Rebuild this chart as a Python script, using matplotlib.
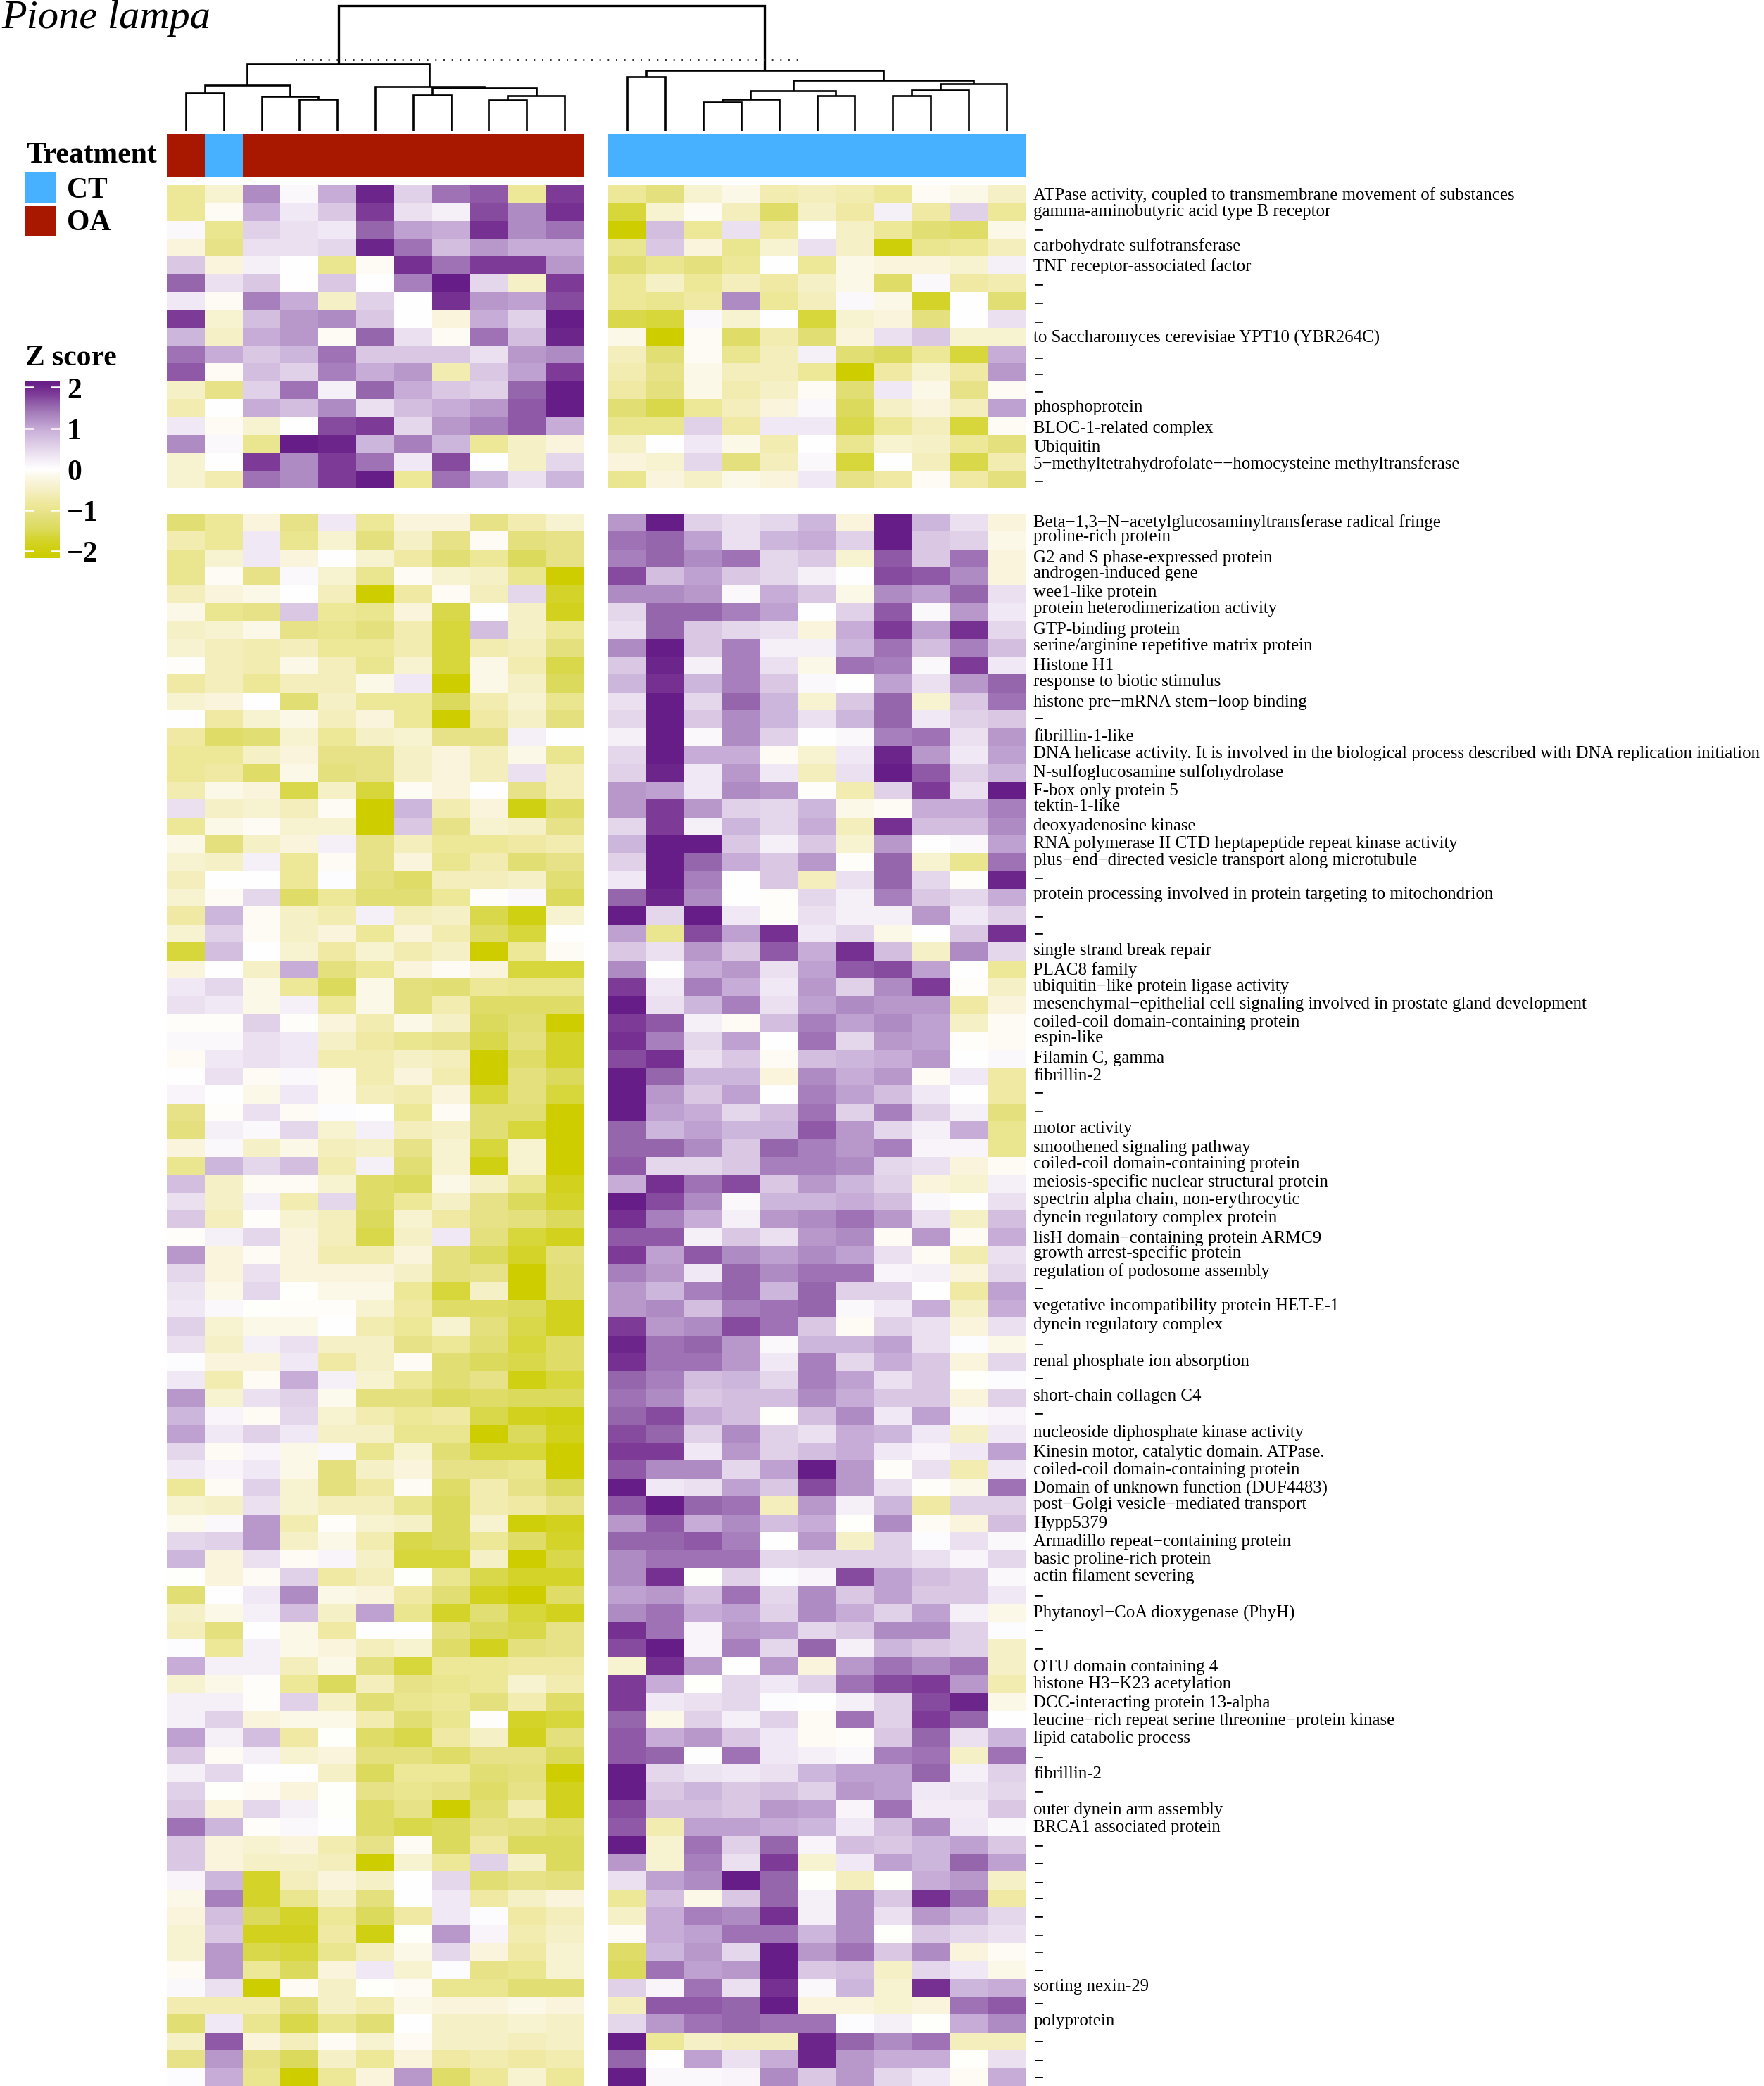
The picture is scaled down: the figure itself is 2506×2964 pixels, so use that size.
import numpy as np
import matplotlib
matplotlib.use("Agg")
import matplotlib.pyplot as plt
from matplotlib.colors import LinearSegmentedColormap, ListedColormap, Normalize
from matplotlib.patches import Rectangle

plt.rcParams['font.family'] = ['Liberation Serif', 'DejaVu Serif']

W, H = 2506, 2964

# ---------- data ----------
top_left = [
[-0.9,-0.4,1.3,0.1,1.0,2.1,0.6,1.5,1.7,-0.9,1.9],
[-0.9,-0.1,1.0,0.3,0.7,1.9,0.4,0.2,1.8,1.3,2.0],
[0.1,-1.0,0.6,0.4,0.3,1.6,1.1,1.0,2.0,1.3,1.5],
[-0.3,-1.1,0.4,0.4,0.5,2.1,1.5,0.8,1.2,1.0,1.0],
[0.7,-0.3,0.2,0.0,-1.0,-0.1,2.0,1.5,1.9,1.9,1.2],
[1.6,0.4,0.7,0,0.7,0,1.4,2.2,0.5,-0.5,1.9],
[0.3,-0.1,1.4,1.0,-0.5,0.6,0,2.0,1.2,1.1,1.8],
[1.9,-0.4,0.8,1.2,1.3,0.7,0,-0.3,1.0,0.6,2.2],
[0.9,-0.5,1.0,1.2,-0.1,1.6,0.4,-0.1,1.5,0.8,2.1],
[1.5,1.0,0.7,0.9,1.5,0.7,0.7,0.7,0.4,1.2,1.3],
[1.7,-0.1,0.8,0.6,1.4,1.0,1.2,-0.7,0.7,1.1,1.9],
[-0.5,-1.1,0.6,1.5,0.2,1.6,1.0,0.7,0.6,1.6,2.2],
[-0.7,0,1.0,0.8,1.3,0.4,0.8,1.0,1.2,1.7,2.2],
[0.3,-0.1,-0.4,0,1.8,1.9,0.5,1.2,1.4,1.7,1.0],
[1.3,0.1,-1.0,2.2,2.1,0.9,1.4,0.9,-0.9,-0.5,-0.3],
[-0.4,0,1.9,1.3,1.9,1.5,0.3,1.8,0,-0.5,0.5],
[-0.4,-0.7,1.5,1.3,1.9,2.2,-0.9,1.5,0.9,0.4,0.9],
]
top_right = [
[-0.9,-1.2,-0.4,-0.2,-0.7,-0.6,-0.7,-0.9,-0.1,-0.2,-0.5],
[-1.7,-0.4,-0.1,-0.6,-1.4,-0.5,-0.8,0.2,-0.8,0.6,-0.9],
[-2.2,0.8,-0.9,0.4,-0.8,0.0,-0.5,-0.9,-1.3,-1.4,-0.2],
[-1.0,0.7,-0.3,-1.0,-0.4,0.4,-0.5,-2.1,-1.0,-0.9,-0.6],
[-1.3,-1.0,-1.2,-0.9,0,-0.9,-0.2,-0.3,-0.3,-0.4,0.2],
[-0.9,-0.5,-0.9,-0.6,-0.8,-0.5,-0.2,-1.4,0.1,-0.8,-0.7],
[-0.9,-1.0,-0.8,1.3,-0.9,-0.6,0.1,-0.2,-1.8,0,-1.3],
[-1.6,-1.7,0.1,-0.4,0,-1.7,-0.4,-0.3,-1.2,0,0.4],
[-0.2,-2.2,-0.1,-1.4,-0.7,-1.3,-0.3,0.4,0.7,-0.4,-0.4],
[-0.6,-1.3,-0.1,-1.0,-0.6,0.2,-1.3,-1.5,-0.9,-1.7,1.0],
[-0.7,-1.1,-0.2,-0.6,-0.6,-0.9,-2.2,-0.8,-0.4,-0.8,1.2],
[-0.8,-1.2,-0.2,-0.7,-0.5,-0.1,-1.3,0.3,-0.2,-1.1,-0.1],
[-1.3,-1.6,-0.9,-0.6,-0.3,0.1,-1.5,-0.5,-0.3,-0.6,1.1],
[-1.0,-1.0,0.6,-0.8,0.3,0.3,-1.6,-0.9,-0.6,-1.7,-0.1],
[-0.5,0,0.3,-0.2,-0.7,0,-1.0,-0.4,-0.5,-0.9,-1.2],
[-0.3,-0.4,0.5,-1.2,-0.6,0.1,-1.7,0,-0.6,-1.6,-0.7],
[-1.0,-0.3,-0.5,-0.2,-0.3,0.3,-1.1,-0.8,-0.1,-0.8,-1.2],
]
bottom_left = [
[-1.3,-0.9,-0.3,-1.1,0.3,-0.9,-0.3,-0.3,-1.1,-0.7,-0.4],
[-0.7,-0.9,0.3,-1.0,-0.4,-1.2,-0.5,-1.1,-0.1,-1.2,-1.1],
[-1.0,-0.4,0.3,-0.3,0,-0.4,-0.8,-1.3,-0.9,-1.5,-1.1],
[-1.0,-0.1,-1.1,0.1,-0.4,-1.0,-0.1,-0.4,-0.5,-1.0,-2.2],
[-0.6,-0.3,-0.2,0,-0.6,-2.2,-0.8,-0.1,-0.6,0.5,-1.8],
[-0.2,-1.0,-1.1,0.7,-0.9,-1.0,-0.3,-1.6,0,-0.5,-1.9],
[-0.5,-0.4,-0.2,-1.1,-1.0,-1.2,-0.7,-1.7,0.8,-0.5,-0.9],
[-0.4,-0.6,-0.7,-0.6,-0.9,-0.9,-0.7,-1.7,-0.7,-0.6,-1.2],
[-0.05,-0.6,-0.7,-0.2,-0.6,-1.0,-0.4,-1.7,-0.2,-0.7,-1.6],
[-0.8,-0.6,-0.9,-0.6,-0.6,-0.2,0.3,-2.2,-0.2,-0.5,-1.5],
[-0.4,-0.3,0,-1.3,-0.5,-0.9,-0.9,-1.5,-0.7,-0.4,-1.0],
[0,-0.8,-0.4,-0.2,-0.6,-0.3,-0.9,-2.2,-0.8,-0.5,-1.2],
[-0.8,-1.4,-1.3,-0.4,-0.9,-0.5,-0.4,-1.1,-1.1,0.2,0],
[-0.9,-0.9,-0.5,-0.3,-1.1,-1.1,-0.5,-0.3,-0.6,-0.2,-1.0],
[-0.9,-0.8,-1.4,-0.2,-1.2,-1.1,-0.5,-0.3,-0.6,0.4,-0.6],
[-0.7,-0.2,-0.3,-1.6,-0.5,-1.7,-0.1,-0.3,0,-1.1,-0.6],
[0.4,-0.5,-0.4,-0.6,-0.1,-2.2,0.9,-0.7,-0.3,-2.0,-1.4],
[-0.9,-0.2,-0.1,-0.4,-0.4,-2.2,0.7,-1.1,-0.4,-0.5,-1.1],
[-0.2,-1.2,-0.5,-0.3,0.2,-1.1,-0.6,-0.9,-0.9,-0.8,-0.7],
[-0.4,-0.5,0.2,-0.9,-0.1,-1.1,-0.3,-1.0,-0.7,-1.3,-1.1],
[-0.6,0,0,-0.9,0.05,-1.2,-1.4,-0.6,-0.6,-0.5,-1.3],
[-0.4,-0.1,0.5,-1.4,-0.9,-1.3,-1.3,-0.9,-0.05,0.1,-1.5],
[-0.8,0.9,-0.1,-0.5,-0.7,0.2,-0.6,-0.5,-1.6,-2.0,-0.4],
[-0.4,0.6,-0.1,-0.5,-0.3,-0.9,-0.3,-0.7,-1.4,-1.7,0],
[-1.7,0.8,0,-0.4,-0.8,-0.4,-0.7,-0.5,-2.2,-0.9,-0.1],
[-0.3,0,-0.5,1.0,-1.2,-0.9,-0.3,-0.1,-0.3,-1.7,-1.7],
[0.3,0.5,-0.2,-0.9,-1.5,-0.2,-1.2,-1.3,-0.9,-1.0,-1.0],
[0.4,0.3,-0.2,0.2,-0.9,-0.2,-1.2,-0.7,-1.4,-1.4,-1.4],
[-0.05,-0.05,0.6,-0.05,-0.3,-0.7,-0.2,-0.5,-1.5,-1.3,-2.2],
[0.1,0.1,0.4,0.3,-0.5,-0.8,-1.0,-1.1,-1.6,-1.2,-1.8],
[-0.1,0.3,0.4,0.3,-0.7,-0.7,-0.5,-0.6,-2.2,-1.4,-1.8],
[0,0.4,-0.1,0.1,-0.1,-0.7,-0.3,-0.7,-2.2,-1.2,-1.5],
[0.15,0,-0.2,0.3,-0.1,-0.6,-0.7,-0.3,-1.7,-1.2,-1.7],
[-1.1,-0.05,0.4,-0.1,0.05,0,-0.9,-0.1,-1.3,-1.3,-2.2],
[-1.2,0.2,0.1,0.5,-0.4,0.2,-0.6,-0.5,-1.3,-1.7,-2.2],
[-0.3,0.1,-0.5,-0.2,-0.6,-0.5,-1.1,-0.4,-1.7,-0.4,-2.2],
[-1.0,0.9,0.5,0.8,-0.7,0.2,-1.3,-0.4,-2.0,-0.4,-2.2],
[0.8,-0.5,-0.1,-0.1,-0.4,-1.4,-1.5,-0.2,-0.5,-1.0,-1.9],
[0.4,-0.5,0.2,-0.7,0.5,-1.4,-0.9,-0.5,-1.1,-1.5,-1.8],
[0.7,-0.6,-0.05,-0.4,-0.6,-1.5,-0.4,-0.8,-1.1,-1.2,-1.5],
[-0.05,0.2,0.5,-0.3,-0.6,-1.6,-0.5,0.3,-1.2,-1.7,-1.9],
[1.2,-0.3,-0.1,-0.3,-0.7,-0.7,-0.3,-1.2,-1.5,-1.8,-1.2],
[0.5,-0.3,0.4,-0.3,-0.3,-0.3,-0.5,-1.2,-1.1,-2.2,-1.3],
[0.35,-0.2,0.5,-0.02,-0.2,-0.2,-0.9,-1.7,-0.5,-2.2,-1.3],
[0.3,0.1,-0.02,-0.05,-0.05,-0.4,-0.8,-1.4,-1.4,-1.5,-1.9],
[0.6,-0.4,-0.2,-0.2,0,-0.7,-0.9,-0.4,-1.2,-1.6,-1.9],
[0.4,-0.5,0.2,0.4,-0.5,-0.5,-1.1,-0.9,-1.3,-1.7,-1.4],
[0.05,-0.3,-0.3,0.3,-0.8,-0.5,-0.1,-1.3,-1.5,-1.6,-1.4],
[0.3,-0.7,-0.1,1.0,0.2,-0.4,-0.9,-1.3,-1.1,-2.0,-1.7],
[1.2,-0.4,0.4,0.6,-0.15,-1.2,-1.2,-1.5,-1.4,-1.5,-1.5],
[0.9,0.15,-0.1,0.5,-0.4,-0.7,-0.9,-0.8,-1.6,-1.9,-2.0],
[1.1,0.3,0.6,0.3,-0.5,-0.5,-1.0,-1.0,-2.2,-1.5,-1.9],
[0.5,-0.1,0.15,-0.2,0.1,-1.0,-0.4,-1.3,-1.7,-1.7,-2.2],
[0.3,0.15,0.3,-0.2,-1.2,-0.5,-0.3,-1.1,-1.1,-1.0,-2.2],
[-0.9,-0.1,0.6,-0.4,-1.2,-0.8,-0.1,-1.4,-0.7,-1.1,-1.5],
[-0.4,-0.5,0.4,-0.4,-0.6,-0.6,-1.0,-1.5,-0.7,-0.8,-1.1],
[-0.15,0.1,1.2,-0.7,-0.05,-0.4,-0.5,-1.5,-0.4,-2.1,-1.9],
[0.5,0.6,1.2,-0.5,-0.2,-0.7,-1.6,-1.5,-0.9,-1.4,-1.8],
[0.9,-0.3,0.4,-0.1,0.15,-0.5,-1.7,-1.7,-0.5,-2.2,-1.6],
[-0.03,-0.3,-0.1,0.6,-0.8,-0.6,-0.02,-1.0,-1.6,-1.8,-1.8],
[-1.3,0,0.3,1.3,-0.2,-0.3,-0.8,-1.3,-1.9,-2.2,-1.4],
[-0.5,-0.2,0.2,0.8,-0.5,1.1,-1.0,-1.8,-1.3,-1.7,-1.9],
[-0.6,-1.2,0,-0.2,-0.8,0,0,-1.2,-1.5,-1.6,-1.1],
[0.05,-0.9,0.2,-0.2,-0.3,-0.6,-0.4,-1.4,-1.9,-1.2,-1.1],
[1.0,0.2,0.2,-0.6,-0.2,-1.2,-1.7,-0.9,-0.9,-0.8,-0.8],
[-0.4,-0.2,-0.05,-0.9,-1.5,-0.6,-1.1,-1.0,-0.9,-0.4,-0.7],
[0.2,0.2,-0.05,0.6,-0.5,-1.3,-1.0,-0.9,-1.2,-0.7,-1.4],
[0.2,0.6,-0.3,-0.2,-0.2,-0.7,-1.3,-1.0,-0.05,-1.8,-1.7],
[1.1,0.2,0.8,-0.8,-0.02,-1.4,-1.6,-0.8,-0.5,-1.9,-1.2],
[0.7,-0.1,0.2,-0.4,-0.3,-1.2,-1.2,-1.4,-1.1,-1.1,-1.5],
[0.2,0.5,0,0,-0.5,-1.5,-0.9,-0.9,-1.3,-1.2,-2.2],
[0.6,-0.02,-0.1,-0.3,-0.02,-1.1,-1.0,-1.1,-1.4,-1.1,-1.9],
[0.7,-0.3,0.5,0.2,-0.02,-1.4,-1.1,-2.2,-1.3,-0.7,-1.9],
[1.5,0.9,-0.05,0.1,0,-1.4,-1.6,-1.5,-1.1,-1.2,-1.4],
[0.7,-0.3,-0.4,-0.3,-0.7,-1.1,-0.1,-1.5,-0.8,-1.5,-1.5],
[0.7,-0.3,-0.5,-0.5,-0.6,-2.2,-0.4,-0.9,0.6,-0.5,-1.5],
[0.15,0.9,-1.8,-0.6,-0.3,-0.5,0,0.5,-1.3,-1.1,-1.2],
[-0.2,1.4,-1.8,-1.0,-0.5,-1.2,0,0.3,-0.8,-0.5,-0.3],
[-0.3,0.8,-1.5,-1.8,-0.9,-1.5,-0.8,0.3,0.05,-0.8,-0.6],
[-0.4,0.7,-1.9,-1.9,-0.8,-2.0,-0.02,1.2,0.15,-0.7,-0.5],
[-0.4,1.2,-1.6,-1.7,-1.0,-0.6,-0.2,0.5,-0.3,-0.8,-0.4],
[-0.1,1.2,-0.9,-1.5,-0.3,0.3,-0.4,0.05,-1.1,-1.0,-0.4],
[0.1,0.4,-2.2,-0.1,-0.5,-0.02,-0.1,-1.0,-1.0,-1.3,-1.3],
[-0.7,-0.7,-0.7,-1.2,-0.5,-0.7,-0.2,-0.3,-0.3,-0.2,-0.3],
[-1.3,0.3,-1.0,-1.6,-1.0,-1.3,0,-0.5,-0.5,-0.4,-0.5],
[-0.5,1.7,-0.3,-0.6,-0.1,-0.4,-0.1,-0.5,-0.5,-0.6,-0.5],
[-1.1,1.2,-1.1,-1.5,-0.5,-0.9,-0.3,-0.8,-0.7,-0.8,-0.7],
[0.05,1.0,-1.0,-2.2,-0.9,-0.3,1.2,-1.4,-0.9,-0.4,-0.9],
]
bottom_right = [
[1.2,2.2,0.6,0.4,0.5,0.9,-0.3,2.2,0.9,0.4,-0.3],
[1.5,1.6,1.1,0.4,0.9,1.0,0.6,2.2,0.7,0.6,-0.2],
[1.4,1.6,1.3,1.5,0.5,0.7,-0.4,1.7,0.7,1.5,-0.3],
[1.8,0.8,1.1,0.7,0.5,0.2,0,1.8,1.7,1.3,-0.3],
[1.3,1.3,1.2,0.1,1.0,0.7,-0.2,1.3,1.1,1.6,0.4],
[0.5,1.6,1.6,1.4,1.1,0,0.6,1.7,0.1,1.2,0.3],
[0.4,1.6,0.7,0.5,0.4,-0.3,1.0,1.9,1.1,2.0,0.5],
[1.3,2.2,0.7,1.4,0.2,0.2,0.9,1.5,0.8,1.4,0.8],
[0.7,2.1,0.2,1.4,0.4,-0.2,1.5,1.4,0.1,1.9,0.3],
[0.9,2.0,0.9,1.4,0.7,0.1,0,1.1,0.4,1.2,1.6],
[0.4,2.2,0.5,1.6,0.9,-0.4,0.7,1.6,-0.4,0.7,1.5],
[0.5,2.2,0.7,1.3,0.9,0.4,0.9,1.6,0.3,0.6,0.7],
[0.2,2.2,0.1,1.3,0.6,0,0.1,1.4,1.5,0.4,1.2],
[0.5,2.2,1.0,1.0,-0.1,-0.4,0.3,2.1,1.2,0.3,1.1],
[0.6,2.1,0.3,1.2,0.3,-0.6,0.4,2.2,1.7,0.6,0.9],
[1.2,1.1,0.3,1.3,1.2,-0.05,-0.7,0.6,1.9,0.4,2.2],
[1.2,1.9,1.2,0.6,0.5,0.9,-0.2,-0.1,1.0,1.0,1.4],
[0.5,1.9,0.2,0.9,0.5,1.0,-0.6,2.0,0.8,0.8,1.3],
[0.9,2.2,2.2,0.7,0.2,0.7,-0.4,1.2,0,0.1,1.1],
[0.6,2.2,1.6,1.0,0.7,1.2,-0.05,1.6,-0.4,-1.0,1.5],
[0.3,2.2,1.4,0,0.7,-0.6,0.4,1.6,0.5,-0.05,2.1],
[1.6,2.1,1.3,0,-0.05,0.5,0.2,1.4,0.7,0.5,1.0],
[2.2,0.5,2.2,0.3,-0.05,0.4,0.2,0.2,1.2,0.3,0.6],
[1.1,-1.0,1.8,1.1,2.0,0.3,0.5,-0.2,0,0.7,2.0],
[0.7,0.4,1.2,0.7,1.7,1.0,2.0,0.8,-0.5,1.3,0.5],
[1.3,0,1.0,1.2,0.4,1.1,1.7,1.8,1.1,0,-0.9],
[1.9,0.3,1.4,1.0,0.3,1.2,0.6,1.3,1.9,-0.05,-0.5],
[2.2,0.4,0.9,1.4,0.4,1.1,1.3,1.2,1.2,-0.8,-0.3],
[1.9,1.7,0.2,-0.1,0.8,1.4,1.1,1.3,1.1,-0.5,-0.1],
[2.0,1.4,0.5,1.1,0,1.5,0.5,1.2,1.1,-0.05,-0.1],
[1.8,2.0,0.4,0.7,-0.1,0.8,0.9,1.0,1.2,0,0.1],
[2.2,1.6,0.9,0.9,-0.3,1.3,1.0,1.2,-0.1,0.3,-0.8],
[2.2,1.2,0.7,1.1,0,1.4,1.1,0.8,0.3,0,-0.8],
[2.2,1.1,1.0,0.5,0.8,1.5,0.6,1.4,0.6,0.2,-1.2],
[1.6,0.9,1.1,0.9,0.9,1.7,1.2,0.5,0.2,1.0,-1.0],
[1.6,1.6,1.3,0.7,1.6,1.4,1.2,1.4,0.15,0.15,-1.0],
[1.7,0.5,0.5,0.7,1.4,1.4,1.3,0.5,0.4,-0.3,-0.1],
[1.0,2.0,1.5,1.8,0.7,1.2,0.9,0.6,-0.3,-0.4,0.2],
[2.2,1.8,1.3,0.1,0.9,0.9,1.0,0.8,0.1,0,0.4],
[2.0,1.4,1.0,0.2,1.2,1.3,1.5,1.2,0.4,-0.5,0.8],
[1.7,1.7,0.2,0.7,0.4,1.2,1.3,-0.1,1.2,-0.1,1.0],
[1.9,1.1,1.7,1.3,1.1,1.3,1.1,0.4,-0.1,-0.7,0.4],
[1.4,1.2,0.3,1.6,1.3,1.5,1.5,0.15,0.2,-0.3,0.5],
[1.2,0.9,1.4,1.6,0.9,1.6,0.6,0.6,0,-0.8,1.1],
[1.2,1.3,0.8,1.4,1.5,1.6,0.1,0.3,1.0,-0.5,1.0],
[1.9,1.2,1.3,1.8,1.5,0.7,-0.1,0.6,0.4,-0.3,0.4],
[2.1,1.5,1.6,1.2,0.1,0.9,0.9,1.1,0.4,0.05,-0.2],
[2.0,1.5,1.5,1.2,0.3,1.4,0.5,1.0,0.7,-0.3,0.5],
[1.6,1.4,0.8,0.9,0.5,1.4,1.1,0.4,0.7,-0.02,0.05],
[1.5,1.3,0.7,0.8,0.8,1.3,1.0,0.7,0.7,-0.3,0.6],
[1.6,1.8,1.0,0.8,-0.02,0.8,1.3,0.3,1.1,0.1,0.15],
[1.8,1.6,0.6,1.3,0.6,0.4,1.0,0.9,0.3,-0.5,0.3],
[1.9,1.9,0.3,1.2,0.6,0.8,1.0,0.3,0.15,0.3,1.1],
[1.7,1.3,1.3,0.5,1.1,2.2,1.2,-0.05,0.4,-0.7,0.3],
[2.2,0.3,0.4,1.1,0.7,1.8,1.2,0.4,-0.05,-0.2,1.5],
[1.7,2.2,1.6,1.5,-0.6,1.2,0.2,0.9,-0.8,0.6,0.6],
[1.2,1.7,1.0,1.3,0.8,1.0,-0.02,1.3,-0.1,-0.3,0.8],
[1.6,1.6,1.7,1.4,0,1.2,-0.5,0.6,0.05,0.4,0.1],
[1.3,1.5,1.5,1.5,0.5,0.6,0.6,0.6,0.4,0.15,0.5],
[1.3,2.0,-0.02,0.6,0.05,0.15,1.8,1.1,0.8,0.7,0.1],
[1.1,1.2,0.8,1.5,0.5,1.3,0.7,1.1,0.7,0.7,0.3],
[1.3,1.5,1.0,1.1,0.6,1.3,1.0,0.6,1.1,0.2,-0.2],
[2.0,1.5,0.15,1.2,1.1,0.5,0.7,1.3,1.3,0.6,0.05],
[1.8,2.2,0.15,1.4,0.5,1.6,0.2,0.9,0.7,0.6,-0.5],
[-0.4,2.0,1.2,0,1.2,-0.3,1.2,1.5,1.3,1.5,-0.5],
[1.9,1.0,-0.02,0.5,0.3,0.6,1.5,1.8,1.9,1.2,-0.7],
[1.9,0.3,0.4,0.5,0.05,0,0.2,0.6,1.8,2.1,-0.2],
[1.6,-0.2,0.6,0.2,0.6,-0.1,1.5,0.6,1.9,1.6,0],
[1.7,1.0,1.2,0.7,0.3,-0.1,-0.05,0.7,1.6,0.4,0.9],
[1.7,1.6,0.03,1.5,0.3,0.2,0.1,1.4,1.5,-0.5,1.5],
[2.2,0.5,0.35,0.3,0.4,0.9,1.1,1.1,1.6,0.2,0.6],
[2.2,0.7,0.9,0.7,0.8,0.6,1.2,1.1,0.3,0.35,0.5],
[1.8,0.8,0.8,0.7,1.2,1.1,0.15,1.5,0.25,0.25,0.7],
[1.7,-0.7,1.1,1.1,1.0,0.9,0.3,0.8,1.3,0.3,0.1],
[2.2,-0.4,1.5,0.6,1.6,0.15,0.8,0.7,0.9,1.1,0.7],
[1.2,-0.4,1.4,0.4,1.9,-0.4,0.3,1.1,0.9,1.6,1.1],
[0.4,1.1,1.3,2.2,1.6,-0.02,-0.6,-0.02,1.0,1.2,-0.5],
[-0.9,0.8,-0.2,0.7,1.6,0.2,1.3,0.7,2.0,1.5,-0.8],
[-0.5,1.0,1.4,1.3,2.0,0.2,1.3,0.4,1.2,0.9,0.5],
[-0.1,1.0,1.1,1.5,1.5,0.9,1.3,-0.02,0.7,0.5,0.4],
[-1.4,0.9,1.2,0.5,2.2,1.2,1.5,0.7,1.3,-0.3,-0.1],
[-1.5,1.5,1.1,1.2,2.2,0.7,0.8,-0.5,0.5,0.3,-0.2],
[0.6,0.15,1.5,0.4,2.0,0.1,0.9,-0.4,2.0,0.9,1.0],
[-0.6,1.7,1.7,1.6,2.2,-0.3,-0.3,-0.4,-0.3,1.5,1.7],
[0.5,1.2,1.5,1.6,1.5,1.5,0.05,0.2,-0.02,1.0,1.3],
[2.2,-0.9,-0.5,-0.6,-0.6,2.1,1.6,1.3,1.5,-0.6,-0.6],
[1.6,0,1.1,0.4,1.0,2.1,1.2,1.0,1.0,-0.02,0.4],
[2.2,0.1,0.1,0.15,1.3,0.7,1.2,0.5,0.3,-0.1,1.0],
]
D = "\u2212"
top_labels = [
"ATPase activity, coupled to transmembrane movement of substances",
"gamma-aminobutyric acid type B receptor", D,
"carbohydrate sulfotransferase", "TNF receptor-associated factor", D, D, D,
"to Saccharomyces cerevisiae YPT10 (YBR264C)", D, D, D, "phosphoprotein",
"BLOC-1-related complex", "Ubiquitin",
f"5{D}methyltetrahydrofolate{D}{D}homocysteine methyltransferase", D,
]
bottom_labels = [
f"Beta{D}1,3{D}N{D}acetylglucosaminyltransferase radical fringe",
"proline-rich protein", "G2 and S phase-expressed protein", "androgen-induced gene",
"wee1-like protein", "protein heterodimerization activity", "GTP-binding protein",
"serine/arginine repetitive matrix protein", "Histone H1", "response to biotic stimulus",
f"histone pre{D}mRNA stem{D}loop binding", D, "fibrillin-1-like",
"DNA helicase activity. It is involved in the biological process described with DNA replication initiation",
"N-sulfoglucosamine sulfohydrolase", "F-box only protein 5", "tektin-1-like",
"deoxyadenosine kinase", "RNA polymerase II CTD heptapeptide repeat kinase activity",
f"plus{D}end{D}directed vesicle transport along microtubule", D,
"protein processing involved in protein targeting to mitochondrion", D, D,
"single strand break repair", "PLAC8 family", f"ubiquitin{D}like protein ligase activity",
f"mesenchymal{D}epithelial cell signaling involved in prostate gland development",
"coiled-coil domain-containing protein", "espin-like", "Filamin C, gamma", "fibrillin-2",
D, D, "motor activity", "smoothened signaling pathway",
"coiled-coil domain-containing protein", "meiosis-specific nuclear structural protein",
"spectrin alpha chain, non-erythrocytic", "dynein regulatory complex protein",
f"lisH domain{D}containing protein ARMC9", "growth arrest-specific protein",
"regulation of podosome assembly", D, "vegetative incompatibility protein HET-E-1",
"dynein regulatory complex", D, "renal phosphate ion absorption", D,
"short-chain collagen C4", D, "nucleoside diphosphate kinase activity",
"Kinesin motor, catalytic domain. ATPase.", "coiled-coil domain-containing protein",
"Domain of unknown function (DUF4483)", f"post{D}Golgi vesicle{D}mediated transport",
"Hypp5379", f"Armadillo repeat{D}containing protein", "basic proline-rich protein",
"actin filament severing", D, f"Phytanoyl{D}CoA dioxygenase (PhyH)", D, D,
"OTU domain containing 4", f"histone H3{D}K23 acetylation",
"DCC-interacting protein 13-alpha", f"leucine{D}rich repeat serine threonine{D}protein kinase",
"lipid catabolic process", D, "fibrillin-2", D, "outer dynein arm assembly",
"BRCA1 associated protein", D, D, D, D, D, D, D, D, "sorting nexin-29", D, "polyprotein", D, D, D,
]
# small vertical label shifts seen in the reference (full-scale pixels, +down)
top_nudge = [0,-2,0,-4,0,2,2,4,0,4,2,2,-2,2,4,2,2]
bottom_nudge = [-2,-7,-2,-5,-4,-6,-2,-4,-1,-4,0,-2,-2,-3,-2,-1,-4,-2,-2,-4,-3,-6,1,0,-2,0,-2,-3,-2,-5,
 -2,-2,-3,-2,-3,-2,-4,-4,-4,-3,0,-5,-4,-4,-5,-4,-1,-2,-3,-4,-4,-3,0,-1,0,-2,-1,0,-1,-2,
 1,0,0,0,0,-1,0,0,0,2,0,0,0,0,1,0,2,0,0,1,0,0,-3,-4,-5,0,1,0]
annot_left = ["OA","CT"] + ["OA"]*9
annot_right = ["CT"]*11
# dendrograms: (child, child, height); leaves are 0..10, new nodes number from 11
merges_left = [(0,1,0.54),(3,4,0.445),(2,12,0.485),(11,13,0.645),(6,7,0.51),(8,9,0.435),(10,16,0.495),
               (15,17,0.61),(5,18,0.625),(14,19,0.945)]
merges_right = [(0,1,0.77),(2,3,0.41),(4,12,0.445),(5,6,0.50),(13,14,0.565),(7,8,0.495),(9,16,0.575),
                (10,17,0.67),(15,18,0.715),(11,19,0.86)]
root_height = 1.77
z_ticks = [2,1,0,-1,-2]

# ---------- helpers ----------
anchors = [(-2.2,'#CDCD00'),(-1.8,'#D4D42A'),(-1.5,'#DDDB5E'),(-1.2,'#E4E07E'),(-0.9,'#EEE899'),(-0.6,'#F4EEBC'),
           (-0.3,'#FAF5DC'),(0,'#FFFFFF'),(0.3,'#F1E9F5'),(0.6,'#E0D0E8'),(1.0,'#C8AED8'),(1.3,'#B08CC4'),
           (1.6,'#9868AF'),(1.9,'#7E3C98'),(2.2,'#661D87')]
cmap = LinearSegmentedColormap.from_list('z', [((v+2.2)/4.4, c) for v, c in anchors])
norm = Normalize(-2.2, 2.2)
trt_cmap = ListedColormap(['#47B0FF', '#A81800'])

fig = plt.figure(figsize=(W/100, H/100), dpi=100)
def axpx(x0, y0, x1, y1):
    ax = fig.add_axes([x0/W, 1-y1/H, (x1-x0)/W, (y1-y0)/H])
    ax.set_axis_off()
    return ax

XL = (237, 829); XR = (864, 1457)
Y_ANN = (191, 251); Y_TOP = (263, 694); Y_BOT = (730, 2964)

def heat(xr, yr, values):
    ax = axpx(xr[0], yr[0], xr[1], yr[1])
    ax.imshow(np.array(values, float), cmap=cmap, norm=norm, aspect='auto', interpolation='nearest')
    return ax
heat(XL, Y_TOP, top_left); axt = heat(XR, Y_TOP, top_right)
heat(XL, Y_BOT, bottom_left); axb = heat(XR, Y_BOT, bottom_right)

def annot(xr, names):
    ax = axpx(xr[0], Y_ANN[0], xr[1], Y_ANN[1])
    ax.imshow([[1 if n == "OA" else 0 for n in names]], cmap=trt_cmap, vmin=0, vmax=1, aspect='auto', interpolation='nearest')
annot(XL, annot_left); annot(XR, annot_right)

LABEL_FS = 17.95
def labels(ax, yr, texts, nudges):
    rowh = (yr[1]-yr[0])/len(texts)
    for i, (t, n) in enumerate(zip(texts, nudges)):
        ypx = yr[0] + (i+.5)*rowh + n + 1.5
        fig.text(1468.5/W, 1-ypx/H, t, fontsize=LABEL_FS, va='center', ha='left', color='black',
                 fontweight='bold' if t == D else 'normal')
labels(axt, Y_TOP, top_labels, top_nudge)
labels(axb, Y_BOT, bottom_labels, bottom_nudge)

# dendrograms
dax = axpx(0, 0, W, 186)
dax.set_xlim(0, W)
dax.set_ylim(0, 186/ (186-8) * root_height)
def dendro(xr, merges):
    n = 11
    w = (xr[1]-xr[0])/n
    pos = {i: xr[0]+(i+.5)*w for i in range(n)}
    hgt = {i: 0.0 for i in range(n)}
    for k, (a, b, h) in enumerate(merges):
        dax.plot([pos[a], pos[a], pos[b], pos[b]], [hgt[a], h, h, hgt[b]], color='black', lw=1.9,
                 solid_joinstyle='miter', solid_capstyle='butt')
        pos[n+k] = (pos[a]+pos[b])/2
        hgt[n+k] = h
    return pos[n+len(merges)-1], hgt[n+len(merges)-1]
pl, hl = dendro(XL, merges_left)
pr, hr = dendro(XR, merges_right)
dax.plot([pl, pl, pr, pr], [hl, root_height, root_height, hr], color='black', lw=2.4, solid_capstyle='butt', solid_joinstyle='miter')
dax.plot([420, 1138], [1.0, 1.0], color='#333333', lw=1.4, ls=(0, (1, 5)))

# title
fig.text(2/W, 1-40/H, "Pione lampa", fontsize=42, style='italic', va='baseline', ha='left')

# legend
LEG_FS = 30
fig.text(37/W, 1-221/H, "Treatment", fontsize=LEG_FS, fontweight='bold', va='center', ha='left')
lax = axpx(0, 0, W, H); lax.set_xlim(0, W); lax.set_ylim(H, 0); lax.patch.set_alpha(0)
lax.set_zorder(-1)
lax.add_patch(Rectangle((36, 244.5), 44, 43.5, color='#47B0FF', lw=0))
lax.add_patch(Rectangle((36, 292), 44, 43.5, color='#A81800', lw=0))
fig.text(95/W, 1-271/H, "CT", fontsize=LEG_FS, fontweight='bold', va='center', ha='left')
fig.text(95/W, 1-317/H, "OA", fontsize=LEG_FS, fontweight='bold', va='center', ha='left')
fig.text(36/W, 1-509/H, "Z score", fontsize=LEG_FS, fontweight='bold', va='center', ha='left')

# colour bar
cax = axpx(35, 541, 85, 793)
grad = np.linspace(2.16, -2.17, 30)[:, None]
cax.imshow(grad, cmap=cmap, norm=norm, aspect='auto', extent=[0, 1, -2.17, 2.16], interpolation='bilinear')
for v in z_ticks:
    cax.plot([0, .24], [v, v], color='white', lw=1.8)
    cax.plot([.76, 1], [v, v], color='white', lw=1.8)
    ypx = 667 - 58.2*v + 5
    txt = f"{D}{abs(v)}" if v < 0 else str(v)
    fig.text(95/W, 1-ypx/H, txt, fontsize=LEG_FS, fontweight='bold', va='center', ha='left')
cax.set_xlim(0, 1); cax.set_ylim(-2.17, 2.16)

fig.savefig("out.png", dpi=100, facecolor='white')
